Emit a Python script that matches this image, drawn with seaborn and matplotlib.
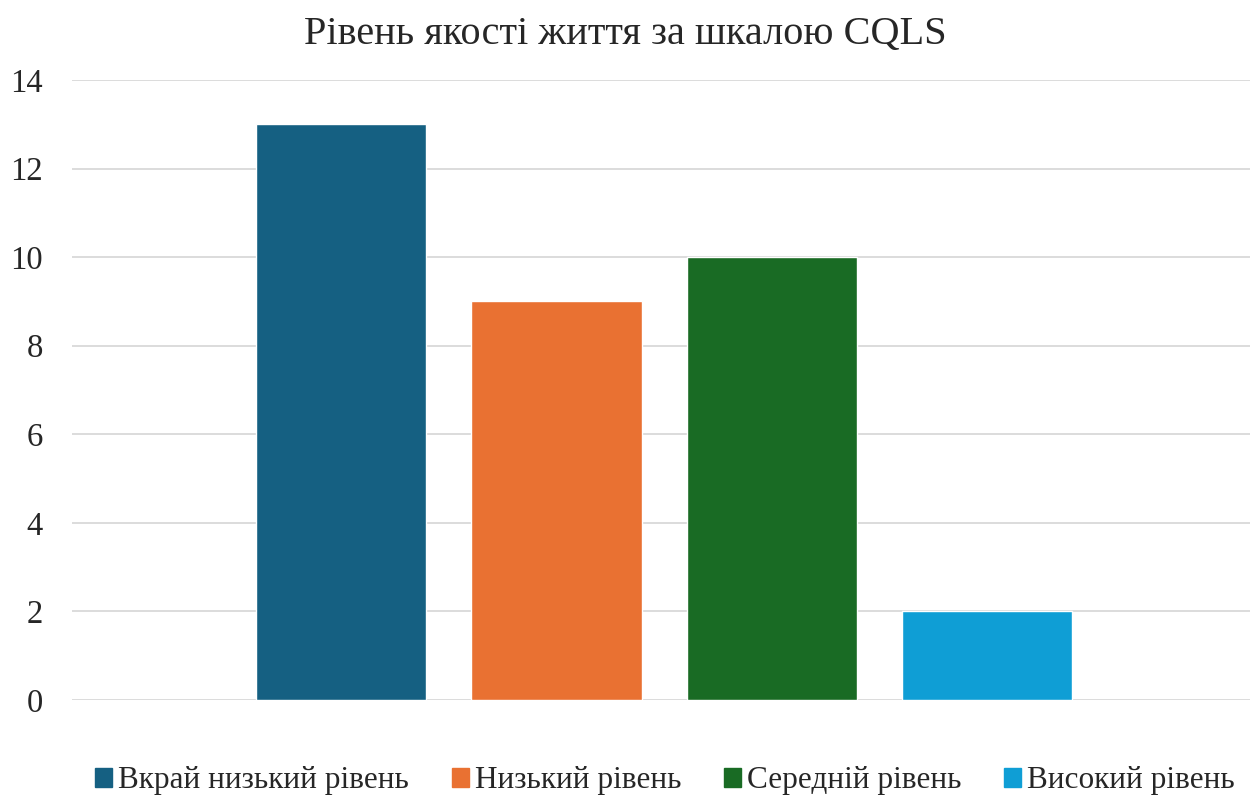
import pandas as pd
import matplotlib.pyplot as plt
import seaborn as sns

# Дані
levels = ['Вкрай низький рівень', 'Низький рівень', 'Середній рівень', 'Високий рівень']
counts = [13, 9, 10, 2]
colors = ['#156082', '#E97132', '#196B24', '#0F9ED5']

df = pd.DataFrame({'level': levels, 'count': counts})

sns.set_style('white')
plt.rcParams['font.family'] = ['Liberation Serif', 'DejaVu Serif']

fig = plt.figure(figsize=(12.5, 8), dpi=100)
ax = fig.add_axes([0.0576, 0.125, 0.9424, 0.775])

sns.barplot(data=df, x='level', y='count', hue='level', palette=colors,
            width=0.79, dodge=False, legend=False, ax=ax, saturation=1)

ax.set_xlim(-1.25, 4.22)
ax.set_ylim(0, 14)
ax.set_yticks(range(0, 15, 2))
ax.set_xticks([])
ax.set_xlabel('')
ax.set_ylabel('')
ax.yaxis.grid(True, color='#D9D9D9', linewidth=1.3)
ax.set_axisbelow(True)
for s in ax.spines.values():
    s.set_visible(False)
ax.tick_params(axis='y', length=0, labelsize=23.5, pad=21)

fig.suptitle('Рівень якості життя за шкалою CQLS', fontsize=29, y=0.98)

handles = [plt.Rectangle((0, 0), 1, 1, color=c) for c in colors]
fig.legend(handles, levels, loc='center', bbox_to_anchor=(0.532, 0.024), ncol=4,
           frameon=False, fontsize=22.5, handlelength=0.55, handleheight=0.55,
           handletextpad=0.2, columnspacing=1.35)

plt.savefig('out.png', dpi=100)
